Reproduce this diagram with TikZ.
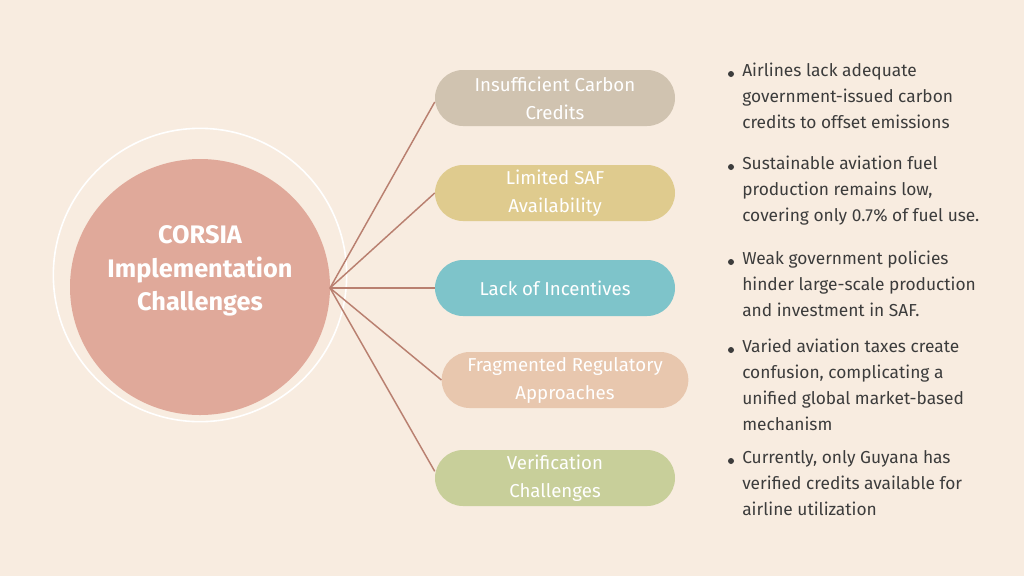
\documentclass[tikz,border=0pt]{standalone}
\usepackage{fontspec}
\setmainfont{Fira Sans}
\definecolor{bg}{HTML}{F8ECE0}
\definecolor{circ}{HTML}{E0A99A}
\definecolor{ln}{HTML}{B98070}
\definecolor{pa}{HTML}{D0C3B0}
\definecolor{pb}{HTML}{DFCB8E}
\definecolor{pc}{HTML}{7EC4CA}
\definecolor{pd}{HTML}{E8C7AE}
\definecolor{pe}{HTML}{C8CF9A}
\definecolor{tx}{HTML}{3C3C3C}
\begin{document}
\begin{tikzpicture}[x=0.75pt,y=-0.75pt,
 pill/.style={rounded corners=21pt,minimum width=180pt,minimum height=42pt,text=white,font=\fontsize{14}{21}\selectfont,align=center,inner sep=0pt},
 bul/.style={anchor=north west,text=tx,font=\fontsize{13}{19.5}\selectfont,align=left,inner sep=0pt},
 dot/.style={circle,fill=tx,inner sep=0pt,minimum size=4.5pt},
 conn/.style={ln,line width=1.1pt}]
\fill[bg] (0,0) rectangle (1024,576);
\useasboundingbox (0,0) rectangle (1024,576);
\draw[white,line width=1.2pt] (200,275) circle[radius=110pt];
\fill[circ] (200,287) ellipse[x radius=97.5pt,y radius=96pt];
\node[text=white,font=\bfseries\fontsize{19}{25}\selectfont,align=center] (c) at (200,271) {CORSIA\\Implementation\\Challenges};
\coordinate (hub) at (330,288);
\node[pill,fill=pa] (p1) at (555,98) {Insufficient Carbon\\Credits};
\node[pill,fill=pb] (p2) at (555,193) {Limited SAF\\Availability};
\node[pill,fill=pc] (p3) at (555,288) {Lack of Incentives};
\node[pill,fill=pd,minimum width=185pt] (p4) at (565,380) {Fragmented Regulatory\\Approaches};
\node[pill,fill=pe] (p5) at (555,478) {Verification\\Challenges};
\draw[conn] (hub) -- ([yshift=-3pt]p1.west);
\draw[conn] (hub) -- (p2.west);
\draw[conn] (hub) -- (p3.west);
\draw[conn] (hub) -- (p4.west);
\draw[conn] (hub) -- ([yshift=5pt]p5.west);
\foreach \y/\t [count=\i] in {
 63/{Airlines lack adequate\\government-issued carbon\\credits to offset emissions},
 156/{Sustainable aviation fuel\\production remains low,\\covering only 0.7\% of fuel use.},
 251/{Weak government policies\\hinder large-scale production\\and investment in SAF.},
 339/{Varied aviation taxes create\\confusion, complicating a\\unified global market-based\\mechanism},
 450/{Currently, only Guyana has\\verified credits available for\\airline utilization}}{
 \node[bul] (b\i) at (742,\y) {\t};
 \node[dot] (d\i) at (731,\y+11) {};
}
\end{tikzpicture}
\end{document}
